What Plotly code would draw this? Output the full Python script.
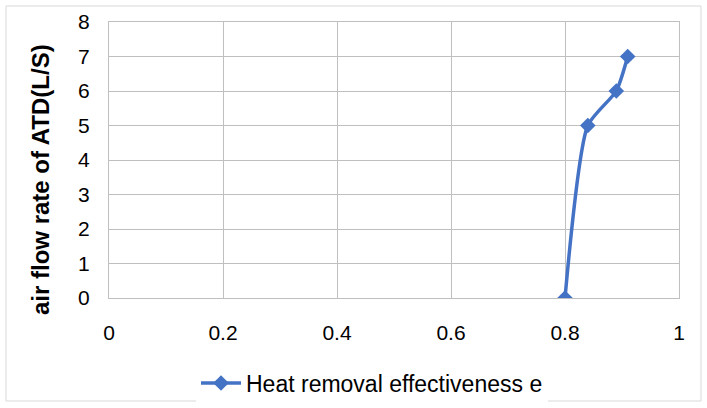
import plotly.graph_objects as go

# Effectiveness vs. air flow rate
effectiveness = [0.8, 0.84, 0.89, 0.91]
air_flow = [0, 5, 6, 7]
series_name = "Heat removal effectiveness e"
y_title = "air flow rate of ATD(L/S)"

x_ticks = [0, 0.2, 0.4, 0.6, 0.8, 1]
x_tick_labels = ["0", "0.2", "0.4", "0.6", "0.8", "1"]
y_ticks = [0, 1, 2, 3, 4, 5, 6, 7, 8]

W, H = 707, 408
ml, mr, mt, mb = 109, 28, 22, 110
pw, ph = W - ml - mr, H - mt - mb

fig = go.Figure()
fig.add_trace(go.Scatter(
    x=effectiveness, y=air_flow, name=series_name,
    mode="lines+markers",
    line=dict(color="#4472C4", width=3.5, shape="spline", smoothing=0.6),
    marker=dict(symbol="diamond", size=12, color="#4472C4"),
))

font_family = "Liberation Sans, Arial, sans-serif"
axis_common = dict(
    showgrid=True, gridcolor="#BFBFBF", gridwidth=1,
    showline=True, linecolor="#BFBFBF", linewidth=1, mirror=True,
    zeroline=False, ticks="outside", tickcolor="rgba(0,0,0,0)",
    automargin=False,
    tickfont=dict(family=font_family, size=21, color="#000000"),
)

fig.update_layout(
    width=W, height=H,
    margin=dict(l=ml, r=mr, t=mt, b=mb),
    paper_bgcolor="white", plot_bgcolor="white",
    showlegend=True,
    legend=dict(
        orientation="h", xref="paper", x=(196 - ml) / pw, xanchor="left",
        yref="container", y=(H - 383) / H, yanchor="middle",
        font=dict(family=font_family, size=23, color="#000000"),
        itemwidth=40,
    ),
    xaxis=dict(range=[0, 1], tickvals=x_ticks, ticktext=x_tick_labels,
               ticklen=16, **axis_common),
    yaxis=dict(range=[0, 8], tickvals=y_ticks, ticklen=14, **axis_common),
)

# Vertical axis title
fig.add_annotation(
    text=f"<b>{y_title}</b>", textangle=-90,
    xref="paper", yref="paper",
    x=(40 - ml) / pw, y=(mt + ph - 180) / ph,
    xanchor="center", yanchor="middle", showarrow=False,
    font=dict(family=font_family, size=24, color="#000000"),
)

# Outer chart border
fig.add_shape(
    type="rect", xref="paper", yref="paper",
    x0=(6 - ml) / pw, x1=(701 - ml) / pw,
    y0=(mt + ph - 401) / ph, y1=(mt + ph - 6) / ph,
    line=dict(color="#D9D9D9", width=1), layer="below",
)

fig.write_html("out.html")
